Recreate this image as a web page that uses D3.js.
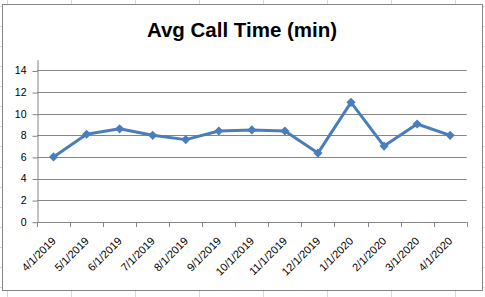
<!DOCTYPE html>
<html>
<head>
<meta charset="utf-8">
<script src="https://cdn.jsdelivr.net/npm/d3@7"></script>
<style>
  html, body { margin: 0; padding: 0; background: #fff; }
  svg { display: block; font-family: "Liberation Sans", Arial, sans-serif; }
</style>
</head>
<body>
<div id="chart"></div>
<script>
const MONTHS = ['4/1/2019', '5/1/2019', '6/1/2019', '7/1/2019', '8/1/2019', '9/1/2019',
  '10/1/2019', '11/1/2019', '12/1/2019', '1/1/2020', '2/1/2020', '3/1/2020', '4/1/2020'];
const AVG_CALL_TIME = [6.0, 8.1, 8.6, 8.0, 7.6, 8.4, 8.5, 8.4, 6.35, 11.05, 7.0, 9.05, 8.0];
const Y_TICKS = [0, 2, 4, 6, 8, 10, 12, 14];

const LINE_COLOR = '#4a7ebb';
const AXIS_COLOR = '#868686';
const SHEET_GRID = '#d9d9d9';

const w = 485, h = 297;
const svg = d3.select('#chart').append('svg')
  .attr('width', w).attr('height', h);

// spreadsheet cells behind the chart
const cols = d3.range(7, w, 64);
const rows = d3.range(6, h, 20.07);
svg.append('g').selectAll('line.c').data(cols).join('line')
  .attr('x1', d => d + 0.5).attr('x2', d => d + 0.5)
  .attr('y1', 0).attr('y2', h)
  .attr('stroke', SHEET_GRID);
svg.append('g').selectAll('line.r').data(rows).join('line')
  .attr('y1', d => Math.round(d) + 0.5).attr('y2', d => Math.round(d) + 0.5)
  .attr('x1', 0).attr('x2', w)
  .attr('stroke', SHEET_GRID);

// chart box
svg.append('rect')
  .attr('x', 2.5).attr('y', 4.5).attr('width', 480).attr('height', 286)
  .attr('fill', '#fff').attr('stroke', AXIS_COLOR);

svg.append('text')
  .attr('x', 242).attr('y', 37)
  .attr('text-anchor', 'middle')
  .attr('font-size', '20.5px').attr('font-weight', 'bold')
  .attr('fill', '#000')
  .text('Avg Call Time (min)');

const m = { left: 37, right: 18, top: 60, bottom: 75 };
const x = d3.scaleBand().domain(MONTHS).range([m.left, 466.7]);
const y = d3.scaleLinear().domain([0, 15]).range([221.7, 221.7 - 15 * 10.8]);

const g = svg.append('g');

// gridlines
g.selectAll('.grid').data(Y_TICKS.filter(d => d > 0)).join('line')
  .attr('x1', m.left).attr('x2', x.range()[1])
  .attr('y1', d => Math.round(y(d)) + 0.5).attr('y2', d => Math.round(y(d)) + 0.5)
  .attr('stroke', AXIS_COLOR);

// y axis
const yAxis = g.append('g')
  .attr('transform', `translate(${m.left + 0.5},0)`)
  .call(d3.axisLeft(y).tickValues(Y_TICKS).tickSize(5).tickPadding(6).tickSizeOuter(0));
yAxis.select('.domain').attr('stroke', AXIS_COLOR);
yAxis.selectAll('.tick line').attr('stroke', AXIS_COLOR)
  .attr('transform', 'translate(0,0.5)');
yAxis.selectAll('.tick text')
  .attr('font-size', '10.5px').attr('fill', '#000')
  .attr('font-family', '"Liberation Sans", Arial, sans-serif');

// x axis: ticks on category boundaries
const bounds = MONTHS.map(d => x(d)).concat([x.range()[1]]);
const xg = g.append('g');
xg.append('line')
  .attr('x1', m.left).attr('x2', x.range()[1])
  .attr('y1', Math.round(y(0)) + 0.5).attr('y2', Math.round(y(0)) + 0.5)
  .attr('stroke', AXIS_COLOR);
xg.selectAll('.xt').data(bounds).join('line')
  .attr('x1', d => Math.round(d) + 0.5).attr('x2', d => Math.round(d) + 0.5)
  .attr('y1', Math.round(y(0))).attr('y2', Math.round(y(0)) + 5)
  .attr('stroke', AXIS_COLOR);
xg.selectAll('.xl').data(MONTHS).join('text')
  .attr('transform', d => `translate(${x(d) + x.bandwidth() / 2 + 3},${y(0) + 20}) rotate(-45)`)
  .attr('text-anchor', 'end')
  .attr('font-size', '11px').attr('fill', '#000')
  .text(d => d);

// series
const pts = MONTHS.map((d, i) => [x(d) + x.bandwidth() / 2, y(AVG_CALL_TIME[i])]);
g.append('path')
  .attr('d', d3.line()(pts))
  .attr('fill', 'none')
  .attr('stroke', LINE_COLOR)
  .attr('stroke-width', 3)
  .attr('stroke-linejoin', 'round');

g.selectAll('.mk').data(pts).join('path')
  .attr('transform', d => `translate(${d[0]},${d[1]}) rotate(45)`)
  .attr('d', d3.symbol(d3.symbolSquare, 42))
  .attr('fill', LINE_COLOR);
</script>
</body>
</html>
